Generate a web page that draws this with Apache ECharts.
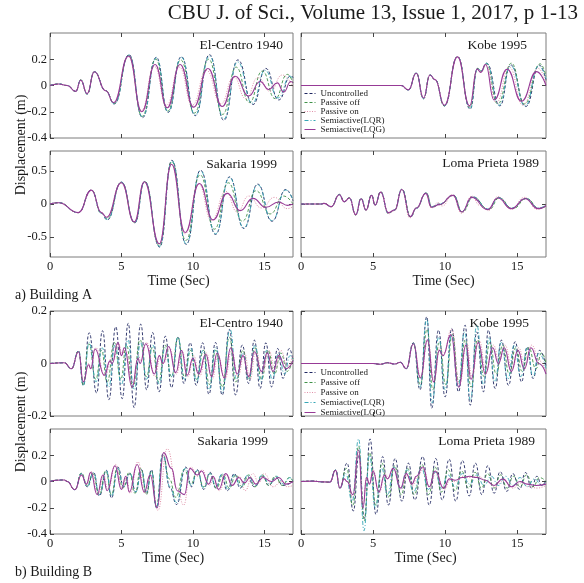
<!DOCTYPE html>
<html>
<head>
<meta charset="utf-8">
<script src="https://cdn.jsdelivr.net/npm/echarts@6/dist/echarts.min.js"></script>
<style>
html,body{margin:0;padding:0;background:#fff;}
#chart{width:584px;height:583px;}
</style>
</head>
<body>
<div id="chart"></div>
<script>
// Roof displacement (m) versus time (s); each series is listed as [time, displacement] turning points.
const seriesNames = ['Uncontrolled', 'Passive off', 'Passive on', 'Semiactive(LQR)', 'Semiactive(LQG)'];
const timeTicks = [0, 5, 10, 15];
const yTicksA = [-0.4, -0.2, 0, 0.2];
const yTicksSakariaA = [-0.5, 0, 0.5];
const yTicksB = [-0.2, 0, 0.2];
const yTicksSakariaB = [-0.4, -0.2, 0, 0.2];

// ---------- Building A : El-Centro 1940 ----------
const elCentroA_unc = [[0,0],[0.6,0.012],[1.2,0],[1.8,-0.045],[2.15,0.043],[2.6,-0.065],[3.1,0.105],[3.9,-0.04],[4.5,-0.14],[5.53,0.235],[6.47,-0.245],[7.44,0.215],[8.26,-0.205],[9.19,0.22],[10.16,-0.23],[11.16,0.235],[12.16,-0.265],[13.14,0.195],[14.2,-0.145],[15.1,0.13],[16.0,-0.11],[16.85,0.075],[17,0.06]];
const elCentroA_off = [[0,0],[0.6,0.012],[1.2,0],[1.8,-0.045],[2.15,0.043],[2.6,-0.065],[3.1,0.105],[3.9,-0.04],[4.5,-0.135],[5.52,0.23],[6.45,-0.235],[7.4,0.2],[8.23,-0.195],[9.15,0.195],[10.1,-0.21],[11.1,0.2],[12.08,-0.22],[13.02,0.14],[13.95,-0.13],[14.85,0.11],[15.75,-0.1],[16.6,0.085],[17,0.02]];
const elCentroA_on = [[0,0],[0.6,0.012],[1.2,0],[1.8,-0.045],[2.15,0.04],[2.6,-0.062],[3.1,0.105],[3.9,-0.04],[4.45,-0.13],[5.5,0.22],[6.4,-0.19],[7.3,0.145],[8.15,-0.15],[9.05,0.14],[9.95,-0.15],[10.95,0.115],[11.95,-0.14],[12.85,0.065],[13.7,-0.1],[14.55,0.06],[15.4,-0.045],[16.25,0.08],[17,-0.01]];
const elCentroA_lqr = [[0,0],[0.6,0.012],[1.2,0],[1.8,-0.045],[2.15,0.043],[2.6,-0.065],[3.1,0.105],[3.9,-0.04],[4.5,-0.14],[5.53,0.232],[6.47,-0.24],[7.44,0.21],[8.26,-0.2],[9.19,0.215],[10.16,-0.225],[11.16,0.225],[12.16,-0.255],[13.12,0.18],[14.15,-0.135],[15.05,0.115],[15.95,-0.095],[16.8,0.07],[17,0.05]];
const elCentroA_lqg = [[0,0],[0.6,0.012],[1.2,0],[1.8,-0.045],[2.15,0.04],[2.6,-0.062],[3.1,0.105],[3.9,-0.04],[4.45,-0.13],[5.5,0.225],[6.42,-0.2],[7.35,0.16],[8.2,-0.17],[9.1,0.16],[10.05,-0.165],[11.05,0.13],[12.05,-0.16],[12.95,0.07],[13.9,-0.08],[14.7,0.03],[15.3,-0.03],[15.9,0.02],[16.35,-0.05],[16.85,0.03],[17,0.02]];

// ---------- Building A : Kobe 1995 ----------
const kobeA_unc = [[0,0],[6.95,0],[7.45,-0.035],[8.0,0.095],[8.5,-0.1],[8.95,0.08],[9.3,0.045],[9.95,-0.155],[10.86,0.22],[11.74,-0.18],[12.25,0.13],[12.5,0.11],[12.88,0.17],[13.8,-0.155],[14.55,0.157],[15.6,-0.16],[16.55,0.155],[17,0.04]];
const kobeA_off = [[0,0],[6.95,0],[7.45,-0.035],[8.0,0.095],[8.5,-0.1],[8.95,0.08],[9.3,0.045],[9.95,-0.155],[10.86,0.22],[11.72,-0.165],[12.25,0.13],[12.5,0.11],[12.85,0.165],[13.65,-0.14],[14.6,0.17],[15.5,-0.14],[16.6,0.165],[17,0.07]];
const kobeA_on = [[0,0],[6.95,0],[7.45,-0.033],[8.0,0.093],[8.5,-0.097],[8.95,0.08],[9.3,0.045],[9.95,-0.15],[10.86,0.218],[11.7,-0.16],[12.22,0.12],[12.48,0.1],[12.85,0.155],[13.55,-0.13],[14.45,0.14],[15.4,-0.15],[16.45,0.13],[17,0.02]];
const kobeA_lqr = [[0,0],[6.95,0],[7.45,-0.035],[8.0,0.095],[8.5,-0.1],[8.95,0.08],[9.3,0.045],[9.95,-0.155],[10.86,0.22],[11.74,-0.175],[12.25,0.13],[12.5,0.11],[12.86,0.17],[13.75,-0.15],[14.55,0.15],[15.55,-0.155],[16.5,0.15],[17,0.05]];
const kobeA_lqg = [[0,0],[6.95,0],[7.45,-0.033],[8.0,0.093],[8.5,-0.095],[8.95,0.08],[9.3,0.045],[9.95,-0.15],[10.86,0.218],[11.7,-0.155],[12.22,0.125],[12.48,0.1],[12.8,0.16],[13.4,-0.11],[14.3,0.124],[15.3,-0.12],[16.35,0.106],[17,0.0]];

// ---------- Building A : Sakaria 1999 ----------
const sakariaA_unc = [[0,0],[0.6,0.02],[1.98,-0.13],[2.9,0.21],[3.6,-0.14],[4.0,-0.24],[5.0,0.33],[5.93,-0.285],[6.63,0.34],[7.67,-0.65],[8.53,0.66],[9.53,-0.61],[10.53,0.51],[11.58,-0.46],[12.56,0.41],[13.56,-0.37],[14.53,0.3],[15.53,-0.26],[16.5,0.22],[17,0.05]];
const sakariaA_off = [[0,0],[0.6,0.02],[1.98,-0.13],[2.9,0.21],[3.6,-0.14],[4.0,-0.22],[5.0,0.33],[5.92,-0.28],[6.62,0.34],[7.66,-0.63],[8.52,0.64],[9.5,-0.55],[10.5,0.44],[11.5,-0.38],[12.48,0.32],[13.45,-0.26],[14.42,0.2],[15.4,-0.15],[16.35,0.12],[17,0.0]];
const sakariaA_on = [[0,0],[0.6,0.02],[1.98,-0.13],[2.9,0.21],[3.6,-0.13],[3.95,-0.2],[4.98,0.32],[5.9,-0.27],[6.6,0.33],[7.64,-0.6],[8.5,0.6],[9.45,-0.45],[10.4,0.3],[11.3,-0.25],[12.3,0.19],[13.1,-0.12],[13.9,0.12],[14.8,-0.06],[15.7,0.1],[16.6,-0.07],[17,-0.04]];
const sakariaA_lqr = [[0,0],[0.6,0.02],[1.98,-0.13],[2.9,0.21],[3.6,-0.14],[4.0,-0.235],[5.0,0.33],[5.93,-0.28],[6.63,0.34],[7.67,-0.64],[8.53,0.65],[9.53,-0.6],[10.53,0.5],[11.58,-0.45],[12.56,0.4],[13.56,-0.36],[14.53,0.29],[15.53,-0.25],[16.5,0.21],[17,0.06]];
const sakariaA_lqg = [[0,0],[0.6,0.02],[1.98,-0.13],[2.9,0.21],[3.6,-0.13],[3.95,-0.2],[5.0,0.32],[5.9,-0.27],[6.6,0.335],[7.65,-0.6],[8.5,0.6],[9.45,-0.43],[10.45,0.31],[11.4,-0.24],[12.4,0.16],[13.3,-0.1],[14.2,0.085],[15.1,-0.05],[16.0,0.03],[16.6,-0.02],[17,0.0]];

// ---------- Building A : Loma Prieta 1989 ----------
const lomaA_unc = [[0,0],[1.4,0],[1.6,0.01],[2.1,-0.04],[2.66,0.145],[3.0,0.035],[3.36,0.095],[3.8,-0.165],[4.17,0.085],[4.51,-0.09],[4.9,0.135],[5.14,-0.015],[5.53,0.185],[6.06,-0.14],[6.5,-0.09],[7.0,0.225],[7.6,-0.2],[8.0,-0.065],[8.68,0.17],[9.07,-0.04],[9.6,0.0],[10.58,0.135],[11.16,-0.115],[11.9,0.11],[13.0,-0.08],[13.7,0.1],[14.63,-0.065],[15.6,0.085],[16.48,-0.065],[17,-0.02]];
const lomaA_off = [[0,0],[1.4,0],[1.6,0.01],[2.1,-0.04],[2.66,0.145],[3.0,0.035],[3.36,0.095],[3.8,-0.165],[4.17,0.085],[4.51,-0.09],[4.9,0.135],[5.14,-0.015],[5.53,0.185],[6.06,-0.14],[6.5,-0.09],[7.0,0.22],[7.62,-0.19],[8.0,-0.06],[8.7,0.165],[9.1,-0.05],[9.6,-0.01],[10.6,0.13],[11.2,-0.12],[11.95,0.1],[13.05,-0.085],[13.75,0.09],[14.7,-0.07],[15.65,0.08],[16.55,-0.07],[17,-0.03]];
const lomaA_on = [[0,0],[1.4,0],[1.6,0.01],[2.1,-0.045],[2.66,0.14],[3.0,0.03],[3.36,0.09],[3.8,-0.17],[4.17,0.08],[4.51,-0.1],[4.9,0.13],[5.14,-0.02],[5.53,0.18],[6.06,-0.15],[6.5,-0.1],[7.0,0.22],[7.55,-0.21],[8.0,-0.07],[8.65,0.16],[9.05,-0.06],[9.5,0.02],[9.8,-0.03],[10.5,0.14],[11.15,-0.14],[11.85,0.12],[12.4,-0.02],[12.7,-0.06],[13.0,-0.1],[13.65,0.11],[14.6,-0.08],[15.5,0.1],[16.4,-0.08],[17,-0.01]];
const lomaA_lqr = [[0,0],[1.4,0],[1.6,0.01],[2.1,-0.04],[2.66,0.14],[3.0,0.035],[3.36,0.09],[3.8,-0.16],[4.17,0.085],[4.51,-0.09],[4.9,0.13],[5.14,-0.015],[5.53,0.18],[6.06,-0.14],[6.5,-0.09],[7.0,0.22],[7.6,-0.19],[8.0,-0.065],[8.68,0.165],[9.07,-0.04],[9.6,0.0],[10.58,0.13],[11.16,-0.11],[11.9,0.105],[13.0,-0.075],[13.7,0.095],[14.63,-0.06],[15.6,0.08],[16.48,-0.06],[17,-0.02]];
const lomaA_lqg = [[0,0],[1.4,0],[1.6,0.01],[2.1,-0.04],[2.66,0.14],[3.0,0.035],[3.36,0.09],[3.8,-0.16],[4.17,0.08],[4.51,-0.09],[4.9,0.13],[5.14,-0.015],[5.53,0.18],[6.06,-0.13],[6.5,-0.09],[7.0,0.22],[7.58,-0.19],[8.0,-0.06],[8.66,0.16],[9.05,-0.05],[9.6,-0.01],[10.55,0.13],[11.15,-0.12],[11.85,0.1],[12.95,-0.085],[13.65,0.09],[14.6,-0.07],[15.55,0.08],[16.45,-0.07],[17,-0.03]];

// ---------- Building B : El-Centro 1940 ----------
const elCentroB_unc = [[0,0],[1.0,0.003],[1.5,-0.02],[2.0,0.048],[2.33,-0.083],[2.74,0.117],[3.26,-0.112],[3.67,0.125],[4.12,-0.138],[4.6,0.14],[5.05,-0.134],[5.47,0.153],[5.88,-0.168],[6.35,0.15],[6.76,-0.1],[7.18,0.118],[7.63,-0.108],[8.07,0.104],[8.5,-0.092],[8.95,0.1],[9.37,-0.076],[9.81,0.079],[10.23,-0.083],[10.68,0.079],[11.12,-0.117],[11.58,0.08],[12.05,-0.12],[12.55,0.13],[12.98,-0.12],[13.45,0.07],[13.9,-0.076],[14.3,0.089],[14.7,-0.095],[15.1,0.079],[15.5,-0.089],[15.93,0.057],[16.3,-0.057],[16.74,0.057],[17,0.01]];
const elCentroB_off = [[0,0],[1.0,0.003],[1.5,-0.02],[2.0,0.048],[2.33,-0.083],[2.72,0.075],[3.2,-0.06],[3.6,0.05],[4.0,-0.07],[4.5,0.08],[4.95,-0.06],[5.35,0.07],[5.8,-0.09],[6.3,0.09],[6.75,-0.05],[7.15,0.06],[7.6,-0.07],[8.05,0.07],[8.5,-0.05],[8.95,0.1],[9.4,-0.05],[9.85,0.05],[10.25,-0.06],[10.75,0.05],[11.15,-0.08],[11.6,0.05],[12.05,-0.09],[12.55,0.1],[13.0,-0.07],[13.5,0.05],[13.9,-0.06],[14.35,0.06],[14.8,-0.06],[15.25,0.05],[15.7,-0.04],[16.15,0.04],[16.6,-0.03],[17,0.02]];
const elCentroB_on = [[0,0],[1.0,0.003],[1.5,-0.02],[2.0,0.045],[2.33,-0.07],[2.7,0.0],[2.85,-0.015],[3.2,0.06],[3.85,-0.05],[4.3,0.02],[4.4,0.01],[4.8,0.075],[5.05,0.035],[5.25,0.05],[5.8,-0.08],[6.2,0.03],[6.35,0.01],[6.75,0.08],[7.35,-0.05],[7.7,0.02],[7.95,0.0],[8.35,0.06],[8.85,-0.04],[9.25,0.045],[9.65,-0.05],[10.05,0.03],[10.45,-0.05],[10.95,0.04],[11.35,-0.06],[11.75,0.03],[12.25,-0.06],[12.7,0.05],[13.15,-0.05],[13.6,0.04],[14.0,-0.06],[14.4,0.05],[14.85,-0.04],[15.3,0.05],[15.75,-0.02],[16.15,0.05],[16.6,-0.01],[17,0.03]];
const elCentroB_lqr = [[0,0],[1.0,0.003],[1.5,-0.02],[2.0,0.048],[2.33,-0.085],[2.74,0.08],[3.22,-0.07],[3.65,0.06],[4.1,-0.09],[4.55,0.07],[5.0,-0.08],[5.45,0.09],[5.88,-0.1],[6.35,0.08],[6.75,-0.06],[7.2,0.07],[7.65,-0.08],[8.05,0.06],[8.5,-0.05],[8.95,0.1],[9.4,-0.06],[9.85,0.06],[10.25,-0.07],[10.7,0.05],[11.12,-0.1],[11.6,0.06],[12.05,-0.11],[12.6,0.13],[13.05,-0.06],[13.5,0.04],[13.9,-0.06],[14.35,0.07],[14.75,-0.07],[15.15,0.05],[15.55,-0.06],[16.0,0.04],[16.4,-0.04],[16.8,0.03],[17,0.01]];
const elCentroB_lqg = [[0,0],[1.0,0.003],[1.5,-0.02],[2.0,0.045],[2.33,-0.07],[2.7,-0.005],[2.85,-0.02],[3.15,0.055],[3.8,-0.045],[4.2,0.01],[4.35,0.0],[4.75,0.08],[5.0,0.03],[5.2,0.06],[5.75,-0.09],[6.15,0.02],[6.3,0.0],[6.7,0.075],[7.3,-0.04],[7.65,0.03],[7.9,0.0],[8.3,0.065],[8.8,-0.035],[9.2,0.05],[9.6,-0.045],[10.0,0.02],[10.4,-0.04],[10.9,0.035],[11.3,-0.05],[11.7,0.04],[12.2,-0.055],[12.65,0.06],[13.1,-0.04],[13.5,0.03],[13.9,-0.05],[14.3,0.045],[14.8,-0.03],[15.2,0.04],[15.6,-0.03],[16.0,0.03],[16.5,-0.02],[17,0.01]];

// ---------- Building B : Kobe 1995 ----------
const kobeB_unc = [[0,0],[5.0,0],[5.5,-0.003],[6.0,0.003],[6.5,-0.002],[6.9,0.005],[7.3,-0.02],[7.8,0.079],[8.26,-0.1],[8.73,0.178],[9.07,-0.17],[9.54,0.127],[10.0,-0.127],[10.46,0.133],[10.93,-0.108],[11.39,0.146],[11.74,-0.159],[12.2,0.12],[12.66,-0.108],[13.0,0.127],[13.47,-0.095],[13.9,0.089],[14.4,-0.083],[14.86,0.083],[15.3,-0.07],[15.7,0.063],[16.1,-0.057],[16.55,0.05],[17,-0.01]];
const kobeB_off = [[0,0],[5.0,0],[5.5,-0.003],[6.0,0.003],[6.5,-0.002],[6.9,0.004],[7.3,-0.02],[7.8,0.077],[8.28,-0.08],[8.75,0.13],[9.15,-0.1],[9.6,0.08],[10.05,-0.08],[10.5,0.11],[10.95,-0.07],[11.4,0.09],[11.8,-0.09],[12.25,0.09],[12.7,-0.05],[13.1,0.08],[13.55,-0.04],[14.0,0.07],[14.45,-0.04],[14.9,0.06],[15.35,-0.03],[15.8,0.06],[16.3,-0.02],[16.7,0.04],[17,0.0]];
const kobeB_on = [[0,0],[5.0,0],[5.5,-0.003],[6.0,0.003],[6.5,-0.002],[6.9,0.004],[7.3,-0.02],[7.8,0.075],[8.3,-0.05],[8.8,0.085],[9.22,-0.06],[9.65,0.06],[9.9,0.04],[10.45,0.13],[11.0,-0.08],[11.5,0.08],[11.85,-0.05],[12.35,0.09],[12.85,-0.03],[13.35,0.07],[13.75,0.01],[14.15,0.07],[14.65,-0.02],[15.1,0.06],[15.55,-0.01],[16.0,0.07],[16.55,0.01],[17,-0.03]];
const kobeB_lqr = [[0,0],[5.0,0],[5.5,-0.003],[6.0,0.003],[6.5,-0.002],[6.9,0.004],[7.3,-0.02],[7.8,0.077],[8.26,-0.09],[8.73,0.17],[9.1,-0.15],[9.55,0.1],[10.0,-0.1],[10.45,0.11],[10.9,-0.09],[11.35,0.12],[11.75,-0.14],[12.2,0.146],[12.65,-0.08],[13.05,0.1],[13.45,-0.07],[13.9,0.08],[14.35,-0.06],[14.8,0.07],[15.25,-0.05],[15.7,0.06],[16.1,-0.05],[16.5,0.04],[17,-0.02]];
const kobeB_lqg = [[0,0],[5.0,0],[5.5,-0.003],[6.0,0.003],[6.5,-0.002],[6.9,0.005],[7.3,-0.02],[7.8,0.075],[8.28,-0.055],[8.78,0.09],[9.2,-0.07],[9.6,0.05],[9.85,0.03],[10.4,0.11],[10.95,-0.09],[11.45,0.07],[11.8,-0.06],[12.3,0.08],[12.8,-0.04],[13.3,0.06],[13.7,0.0],[14.1,0.06],[14.6,-0.03],[15.05,0.05],[15.5,-0.02],[15.95,0.06],[16.5,0.0],[17,-0.04]];

// ---------- Building B : Sakaria 1999 ----------
const sakariaB_unc = [[0,0],[0.5,0.01],[1.0,0.012],[1.2,0.0],[1.74,-0.063],[2.2,0.06],[2.6,-0.04],[3.05,0.07],[3.45,-0.11],[3.95,0.085],[4.3,-0.125],[4.75,0.11],[5.15,-0.04],[5.6,0.06],[6.0,-0.08],[6.4,0.09],[6.75,-0.09],[7.1,0.09],[7.45,-0.2],[7.9,0.21],[8.4,-0.05],[8.85,-0.175],[9.5,0.11],[9.9,-0.04],[10.3,0.09],[10.75,-0.06],[11.2,0.07],[11.6,-0.05],[12.0,0.05],[12.4,-0.07],[12.9,0.06],[13.3,-0.05],[13.8,0.04],[14.3,-0.04],[14.9,0.04],[15.3,-0.03],[15.8,0.03],[16.3,-0.03],[17,0.0]];
const sakariaB_off = [[0,0],[0.5,0.01],[1.0,0.012],[1.2,0.0],[1.74,-0.063],[2.2,0.065],[2.6,-0.03],[3.0,0.06],[3.45,-0.1],[3.9,0.08],[4.3,-0.1],[4.7,0.1],[5.1,-0.05],[5.55,0.07],[5.95,-0.09],[6.35,0.1],[6.75,-0.1],[7.1,0.08],[7.45,-0.19],[7.9,0.2],[8.35,0.02],[8.8,-0.12],[9.4,0.09],[9.85,-0.02],[10.3,0.08],[10.75,-0.04],[11.2,0.06],[11.65,-0.05],[12.1,0.05],[12.55,-0.05],[13.0,0.05],[13.45,-0.04],[13.9,0.05],[14.35,-0.04],[14.85,0.05],[15.3,-0.03],[15.75,0.04],[16.25,-0.03],[16.75,0.03],[17,0.0]];
const sakariaB_on = [[0,0],[0.5,0.01],[1.0,0.012],[1.2,0.0],[1.74,-0.06],[2.2,0.05],[2.55,-0.02],[2.9,0.075],[3.35,-0.1],[3.75,0.05],[4.05,-0.06],[4.6,0.13],[5.05,-0.05],[5.35,0.03],[5.6,-0.09],[6.15,0.15],[6.65,-0.09],[7.05,0.05],[7.55,-0.22],[8.2,0.25],[8.9,-0.05],[9.35,-0.18],[9.85,0.11],[10.35,0.04],[10.65,0.09],[11.15,-0.03],[11.45,0.03],[11.85,-0.07],[12.35,0.05],[12.8,-0.02],[13.25,0.04],[13.65,-0.07],[14.2,0.06],[14.6,-0.01],[15.0,0.06],[15.6,-0.04],[16.2,0.0],[16.6,-0.04],[17,-0.03]];
const sakariaB_lqr = [[0,0],[0.5,0.01],[1.0,0.012],[1.2,0.0],[1.74,-0.063],[2.2,0.06],[2.6,-0.04],[3.05,0.065],[3.45,-0.1],[3.95,0.08],[4.3,-0.11],[4.75,0.1],[5.15,-0.04],[5.6,0.06],[6.0,-0.08],[6.4,0.085],[6.75,-0.08],[7.1,0.08],[7.45,-0.2],[7.88,0.2],[8.4,-0.04],[8.85,-0.16],[9.45,0.1],[9.9,-0.03],[10.3,0.085],[10.75,-0.05],[11.2,0.06],[11.6,-0.04],[12.05,0.06],[12.45,-0.06],[12.9,0.05],[13.35,-0.04],[13.85,0.05],[14.35,-0.03],[14.85,0.05],[15.35,-0.02],[15.85,0.04],[16.35,-0.02],[16.8,0.03],[17,0.0]];
const sakariaB_lqg = [[0,0],[0.5,0.01],[1.0,0.012],[1.2,0.0],[1.74,-0.063],[2.2,0.05],[2.55,-0.02],[2.85,0.07],[3.3,-0.1],[3.7,0.05],[4.0,-0.07],[4.55,0.12],[5.0,-0.06],[5.3,0.04],[5.55,-0.08],[6.1,0.13],[6.6,-0.08],[7.0,0.05],[7.5,-0.2],[7.95,0.22],[8.5,0.1],[8.9,-0.07],[9.4,-0.1],[9.8,0.1],[10.3,0.05],[10.6,0.08],[11.1,-0.02],[11.4,0.04],[11.8,-0.06],[12.3,0.06],[12.75,-0.03],[13.2,0.03],[13.6,-0.01],[14.0,0.03],[14.4,-0.02],[14.9,0.03],[15.5,0.0],[16.0,0.03],[16.5,-0.02],[17,0.0]];

// ---------- Building B : Loma Prieta 1989 ----------
const lomaB_unc = [[0,0],[0.8,0.003],[1.5,-0.003],[2.0,-0.005],[2.4,0.088],[2.7,-0.05],[3.2,0.14],[3.63,-0.225],[4.02,0.2],[4.4,-0.28],[4.79,0.325],[5.2,-0.25],[5.67,0.19],[6.06,-0.18],[6.53,0.175],[7.0,-0.15],[7.45,0.14],[7.9,-0.14],[8.45,0.19],[8.9,-0.18],[9.35,0.175],[9.8,-0.14],[10.28,0.17],[10.74,-0.15],[11.2,0.16],[11.67,-0.11],[12.1,0.14],[12.55,-0.1],[12.96,0.12],[13.4,-0.09],[13.82,0.075],[14.28,-0.075],[14.7,0.06],[15.16,-0.06],[15.58,0.068],[16.0,-0.05],[16.37,0.04],[16.7,-0.03],[17,0.01]];
const lomaB_off = [[0,0],[0.8,0.003],[1.5,-0.003],[2.0,-0.005],[2.4,0.085],[2.7,-0.05],[3.15,0.1],[3.6,-0.18],[4.0,0.27],[4.38,-0.3],[4.77,0.22],[5.18,-0.18],[5.62,0.14],[6.05,-0.12],[6.5,0.12],[6.95,-0.1],[7.4,0.1],[7.85,-0.1],[8.4,0.13],[8.85,-0.1],[9.3,0.11],[9.75,-0.08],[10.22,0.09],[10.7,-0.07],[11.15,0.08],[11.62,-0.05],[12.08,0.07],[12.52,-0.05],[12.95,0.06],[13.4,-0.05],[13.85,0.05],[14.3,-0.05],[14.75,0.04],[15.2,-0.04],[15.65,0.05],[16.1,-0.04],[16.55,0.03],[17,0.0]];
const lomaB_on = [[0,0],[0.8,0.003],[1.5,-0.003],[2.0,-0.005],[2.4,0.085],[2.7,-0.05],[3.0,0.02],[3.2,0.0],[3.6,-0.12],[4.0,0.22],[4.32,-0.17],[4.55,0.04],[4.75,-0.01],[5.0,0.09],[5.4,-0.09],[5.85,0.06],[6.05,0.03],[6.45,0.11],[6.95,-0.06],[7.35,0.05],[7.75,-0.03],[8.05,0.03],[8.5,0.1],[8.95,-0.05],[9.35,0.07],[9.95,-0.06],[10.35,0.01],[10.75,0.0],[11.25,0.04],[11.75,0.03],[12.3,0.04],[12.9,0.0],[13.5,-0.04],[14.1,0.01],[14.7,-0.05],[15.3,-0.01],[15.8,-0.04],[16.4,-0.05],[17,-0.03]];
const lomaB_lqr = [[0,0],[0.8,0.003],[1.5,-0.003],[2.0,-0.005],[2.4,0.088],[2.7,-0.05],[3.1,0.06],[3.55,-0.15],[4.0,0.325],[4.37,-0.375],[4.75,0.2],[5.15,-0.2],[5.6,0.1],[6.0,-0.1],[6.45,0.11],[6.9,-0.06],[7.35,0.09],[7.8,-0.08],[8.35,0.1],[8.85,-0.06],[9.3,0.07],[9.75,-0.05],[10.2,0.05],[10.7,-0.04],[11.2,0.06],[11.7,-0.02],[12.2,0.05],[12.7,-0.03],[13.2,0.04],[13.7,-0.03],[14.2,0.04],[14.7,-0.03],[15.2,0.03],[15.7,-0.04],[16.2,0.02],[16.7,-0.03],[17,0.0]];
const lomaB_lqg = [[0,0],[0.8,0.003],[1.5,-0.003],[2.0,-0.005],[2.4,0.085],[2.7,-0.05],[3.0,0.02],[3.2,0.0],[3.6,-0.1],[4.0,0.24],[4.3,-0.2],[4.55,0.03],[4.75,-0.02],[5.0,0.08],[5.4,-0.08],[5.8,0.05],[6.0,0.02],[6.4,0.1],[6.9,-0.05],[7.3,0.06],[7.7,-0.02],[8.0,0.04],[8.45,0.11],[8.9,-0.04],[9.3,0.08],[9.9,-0.05],[10.3,0.02],[10.7,0.01],[11.2,0.03],[11.7,0.04],[12.2,0.03],[12.8,0.01],[13.4,-0.03],[14.0,0.02],[14.6,-0.04],[15.2,0.0],[15.7,-0.02],[16.3,-0.03],[17,-0.02]];

// ---------- layout ----------
const FONT = "'Liberation Serif','Times New Roman',serif";
const lineStyles = [
  { color: '#1e2660', type: [3, 2], width: 0.9 },
  { color: '#3f9148', type: [3, 2], width: 0.9 },
  { color: '#e090a8', type: [1, 1.5], width: 1 },
  { color: '#36a6b6', type: [4, 2, 1, 2], width: 0.9 },
  { color: '#973a96', type: 'solid', width: 1.1 }
];

const panels = [
  { title: 'El-Centro 1940', tx: 283, ty: 45, box: [50, 33, 243, 105], y: [-0.4, 0.4], ticks: yTicksA, yLab: true, xLab: false,
    data: [elCentroA_unc, elCentroA_off, elCentroA_on, elCentroA_lqr, elCentroA_lqg] },
  { title: 'Kobe 1995', tx: 527, ty: 45, box: [301, 33, 245, 105], y: [-0.4, 0.4], ticks: yTicksA, yLab: false, xLab: false,
    data: [kobeA_unc, kobeA_off, kobeA_on, kobeA_lqr, kobeA_lqg] },
  { title: 'Sakaria 1999', tx: 277, ty: 164, box: [50, 151, 243, 106], y: [-0.8, 0.8], ticks: yTicksSakariaA, yLab: true, xLab: true, nameGap: 13, namePad: 14,
    data: [sakariaA_unc, sakariaA_off, sakariaA_on, sakariaA_lqr, sakariaA_lqg] },
  { title: 'Loma Prieta 1989', tx: 539, ty: 163, box: [301, 151, 245, 106], y: [-0.8, 0.8], ticks: yTicksSakariaA, yLab: false, xLab: true, nameGap: 13, namePad: 40,
    data: [lomaA_unc, lomaA_off, lomaA_on, lomaA_lqr, lomaA_lqg] },
  { title: 'El-Centro 1940', tx: 283, ty: 323, box: [50, 311, 243, 105], y: [-0.2, 0.2], ticks: yTicksB, yLab: true, xLab: false,
    data: [elCentroB_unc, elCentroB_off, elCentroB_on, elCentroB_lqr, elCentroB_lqg] },
  { title: 'Kobe 1995', tx: 529, ty: 323, box: [301, 311, 245, 105], y: [-0.2, 0.2], ticks: yTicksB, yLab: false, xLab: false,
    data: [kobeB_unc, kobeB_off, kobeB_on, kobeB_lqr, kobeB_lqg] },
  { title: 'Sakaria 1999', tx: 268, ty: 441, box: [50, 429, 243, 105], y: [-0.4, 0.4], ticks: yTicksSakariaB, yLab: true, xLab: true, nameGap: 11, namePad: 3,
    data: [sakariaB_unc, sakariaB_off, sakariaB_on, sakariaB_lqr, sakariaB_lqg] },
  { title: 'Loma Prieta 1989', tx: 535, ty: 441, box: [301, 429, 245, 105], y: [-0.4, 0.4], ticks: yTicksSakariaB, yLab: false, xLab: true, nameGap: 11, namePad: 4,
    data: [lomaB_unc, lomaB_off, lomaB_on, lomaB_lqr, lomaB_lqg] }
];

const grid = [], xAxis = [], yAxis = [], series = [];
const tickStyle = { color: '#444', width: 1 };
const labelStyle = { fontFamily: FONT, fontSize: 12.5, color: '#1a1a1a' };

panels.forEach((p) => {
  grid.push({ left: p.box[0], top: p.box[1], width: p.box[2], height: p.box[3],
    show: true, borderColor: '#7d7d7d', borderWidth: 1, backgroundColor: 'transparent' });
});
// bottom and left axes carry the data
panels.forEach((p, i) => {
  xAxis.push({ gridIndex: i, type: 'value', min: 0, max: 17, position: 'bottom',
    axisLine: { show: false, onZero: false }, splitLine: { show: false },
    axisTick: { show: true, inside: true, length: 4, customValues: timeTicks, lineStyle: tickStyle },
    axisLabel: Object.assign({ show: p.xLab, customValues: timeTicks, margin: 3 }, labelStyle),
    name: p.xLab ? 'Time (Sec)' : '', nameLocation: 'middle', nameGap: p.nameGap || 12,
    nameTextStyle: { fontFamily: FONT, fontSize: 14, color: '#1a1a1a', padding: [0, 0, 0, p.namePad || 0] } });
  yAxis.push({ gridIndex: i, type: 'value', min: p.y[0], max: p.y[1], position: 'left',
    axisLine: { show: false, onZero: false }, splitLine: { show: false },
    axisTick: { show: true, inside: true, length: 4, customValues: p.ticks, lineStyle: tickStyle },
    axisLabel: Object.assign({ show: p.yLab, customValues: p.ticks, margin: 3 }, labelStyle) });
});
// mirrored top and right axes for the inner tick marks of the box
panels.forEach((p, i) => {
  xAxis.push({ gridIndex: i, type: 'value', min: 0, max: 17, position: 'top',
    axisLine: { show: false, onZero: false }, splitLine: { show: false },
    axisTick: { show: true, inside: true, length: 4, customValues: timeTicks, lineStyle: tickStyle },
    axisLabel: { show: false } });
  yAxis.push({ gridIndex: i, type: 'value', min: p.y[0], max: p.y[1], position: 'right',
    axisLine: { show: false, onZero: false }, splitLine: { show: false },
    axisTick: { show: true, inside: true, length: 4, customValues: p.ticks, lineStyle: tickStyle },
    axisLabel: { show: false } });
});

panels.forEach((p, i) => {
  p.data.forEach((d, k) => {
    series.push({
      type: 'line', name: seriesNames[k], xAxisIndex: i, yAxisIndex: i, data: d,
      showSymbol: false, symbol: 'none', smooth: 0.5, smoothMonotone: 'x',
      lineStyle: lineStyles[k], itemStyle: { color: lineStyles[k].color },
      silent: true, animation: false, z: 2 + k
    });
  });
});

function label(text, x, y, size, align, rotation) {
  return { type: 'text', x: x, y: y, rotation: rotation || 0, silent: true,
    style: { text: text, x: 0, y: 0, fontFamily: FONT, fontSize: size, fill: '#1a1a1a',
      align: align, textAlign: align, verticalAlign: 'middle', textVerticalAlign: 'middle' } };
}
const graphic = [
  label('CBU J. of Sci., Volume 13, Issue 1, 2017, p 1-13', 578, 13, 21, 'right'),
  label('a) Building A', 15, 295, 14, 'left'),
  label('b) Building B', 15, 572, 14, 'left'),
  label('Displacement (m)', 21, 145, 14, 'center', Math.PI / 2),
  label('Displacement (m)', 21, 422, 14, 'center', Math.PI / 2)
];
panels.forEach(p => graphic.push(label(p.title, p.tx, p.ty, 13.5, 'right')));

// legend shows only the coloured line sample of each series, no marker
const legendItems = seriesNames.map((n, k) => ({
  name: n,
  itemStyle: { opacity: 0 },
  lineStyle: { color: lineStyles[k].color, type: lineStyles[k].type, width: 1 }
}));
const legendBase = {
  data: legendItems, orient: 'vertical', left: 304, padding: 0,
  itemWidth: 11, itemHeight: 6, selectedMode: false,
  itemStyle: { opacity: 0 },
  textStyle: { fontFamily: FONT, fontSize: 9, color: '#1a1a1a', lineHeight: 8 }
};

const chart = echarts.init(document.getElementById('chart'), null, { renderer: 'canvas' });
chart.setOption({
  animation: false,
  backgroundColor: '#ffffff',
  grid: grid, xAxis: xAxis, yAxis: yAxis, series: series,
  legend: [
    Object.assign({}, legendBase, { top: 89, itemGap: 0 }),
    Object.assign({}, legendBase, { top: 368, itemGap: 1 })
  ],
  graphic: graphic
});
</script>
</body>
</html>
